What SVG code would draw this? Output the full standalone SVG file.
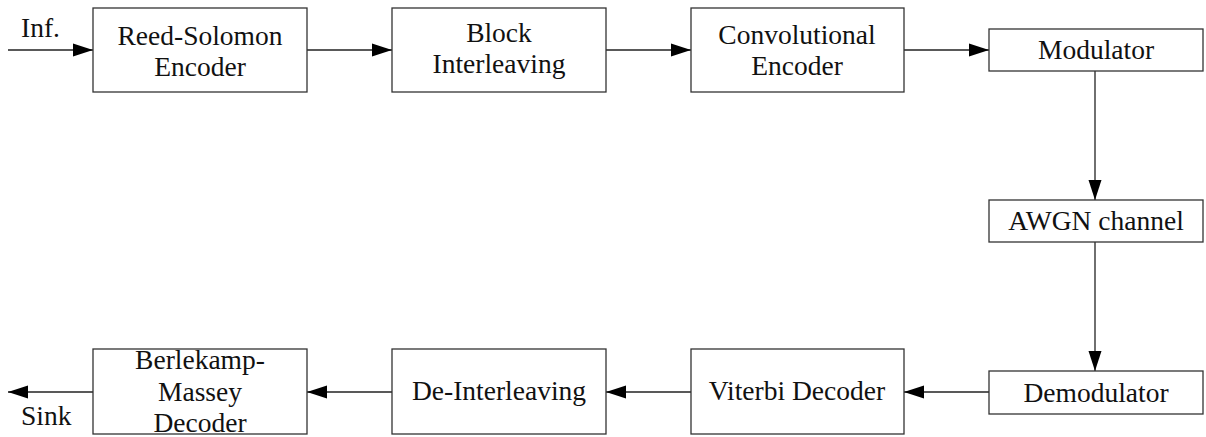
<svg xmlns="http://www.w3.org/2000/svg" width="1206" height="437" viewBox="0 0 1206 437">
<style>
.box{fill:#fff;stroke:#333;stroke-width:1.3}
.t{font-family:"Liberation Serif",serif;font-size:27.5px;fill:#111;text-anchor:middle}
.tl{font-family:"Liberation Serif",serif;font-size:27.5px;fill:#111}
.c{stroke:#222;stroke-width:1.3;fill:none;marker-end:url(#ah)}
</style>
<defs>
<marker id="ah" markerUnits="userSpaceOnUse" markerWidth="21" markerHeight="14" refX="20" refY="7" orient="auto">
<path d="M0,0.5 L20,7 L0,13.5 Z" fill="#000"/>
</marker>
</defs>
<g id="connectors">
<path class="c" d="M8,50 H93"/>
<path class="c" d="M307,50 H392"/>
<path class="c" d="M606,50 H691"/>
<path class="c" d="M904,50 H989"/>
<path class="c" d="M1095,71 V200"/>
<path class="c" d="M1095,242 V371"/>
<path class="c" d="M989,392 H904"/>
<path class="c" d="M691,392 H606"/>
<path class="c" d="M392,392 H307"/>
<path class="c" d="M93,392 H8"/>
<text class="tl" x="21" y="37">Inf.</text>
<text class="tl" x="21" y="425">Sink</text>
</g>
<g id="rs-encoder">
<rect class="box" x="93" y="8" width="214" height="84"/>
<text class="t" x="200" y="45">Reed-Solomon</text>
<text class="t" x="200" y="76">Encoder</text>
</g>
<g id="block-interleaving">
<rect class="box" x="392" y="8" width="214" height="84"/>
<text class="t" x="499" y="42">Block</text>
<text class="t" x="499" y="73">Interleaving</text>
</g>
<g id="conv-encoder">
<rect class="box" x="691" y="8" width="213" height="84"/>
<text class="t" x="797" y="44">Convolutional</text>
<text class="t" x="797" y="75">Encoder</text>
</g>
<g id="modulator">
<rect class="box" x="989" y="29" width="214" height="42"/>
<text class="t" x="1096" y="59">Modulator</text>
</g>
<g id="awgn">
<rect class="box" x="989" y="200" width="214" height="42"/>
<text class="t" x="1096" y="230">AWGN channel</text>
</g>
<g id="demodulator">
<rect class="box" x="989" y="371" width="214" height="43"/>
<text class="t" x="1096" y="402">Demodulator</text>
</g>
<g id="viterbi">
<rect class="box" x="691" y="349" width="213" height="85"/>
<text class="t" x="797" y="400">Viterbi Decoder</text>
</g>
<g id="de-interleaving">
<rect class="box" x="392" y="349" width="214" height="85"/>
<text class="t" x="499" y="400">De-Interleaving</text>
</g>
<g id="bm-decoder">
<rect class="box" x="93" y="349" width="214" height="85"/>
<text class="t" x="200" y="369">Berlekamp-</text>
<text class="t" x="200" y="401">Massey</text>
<text class="t" x="200" y="432">Decoder</text>
</g>
</svg>
